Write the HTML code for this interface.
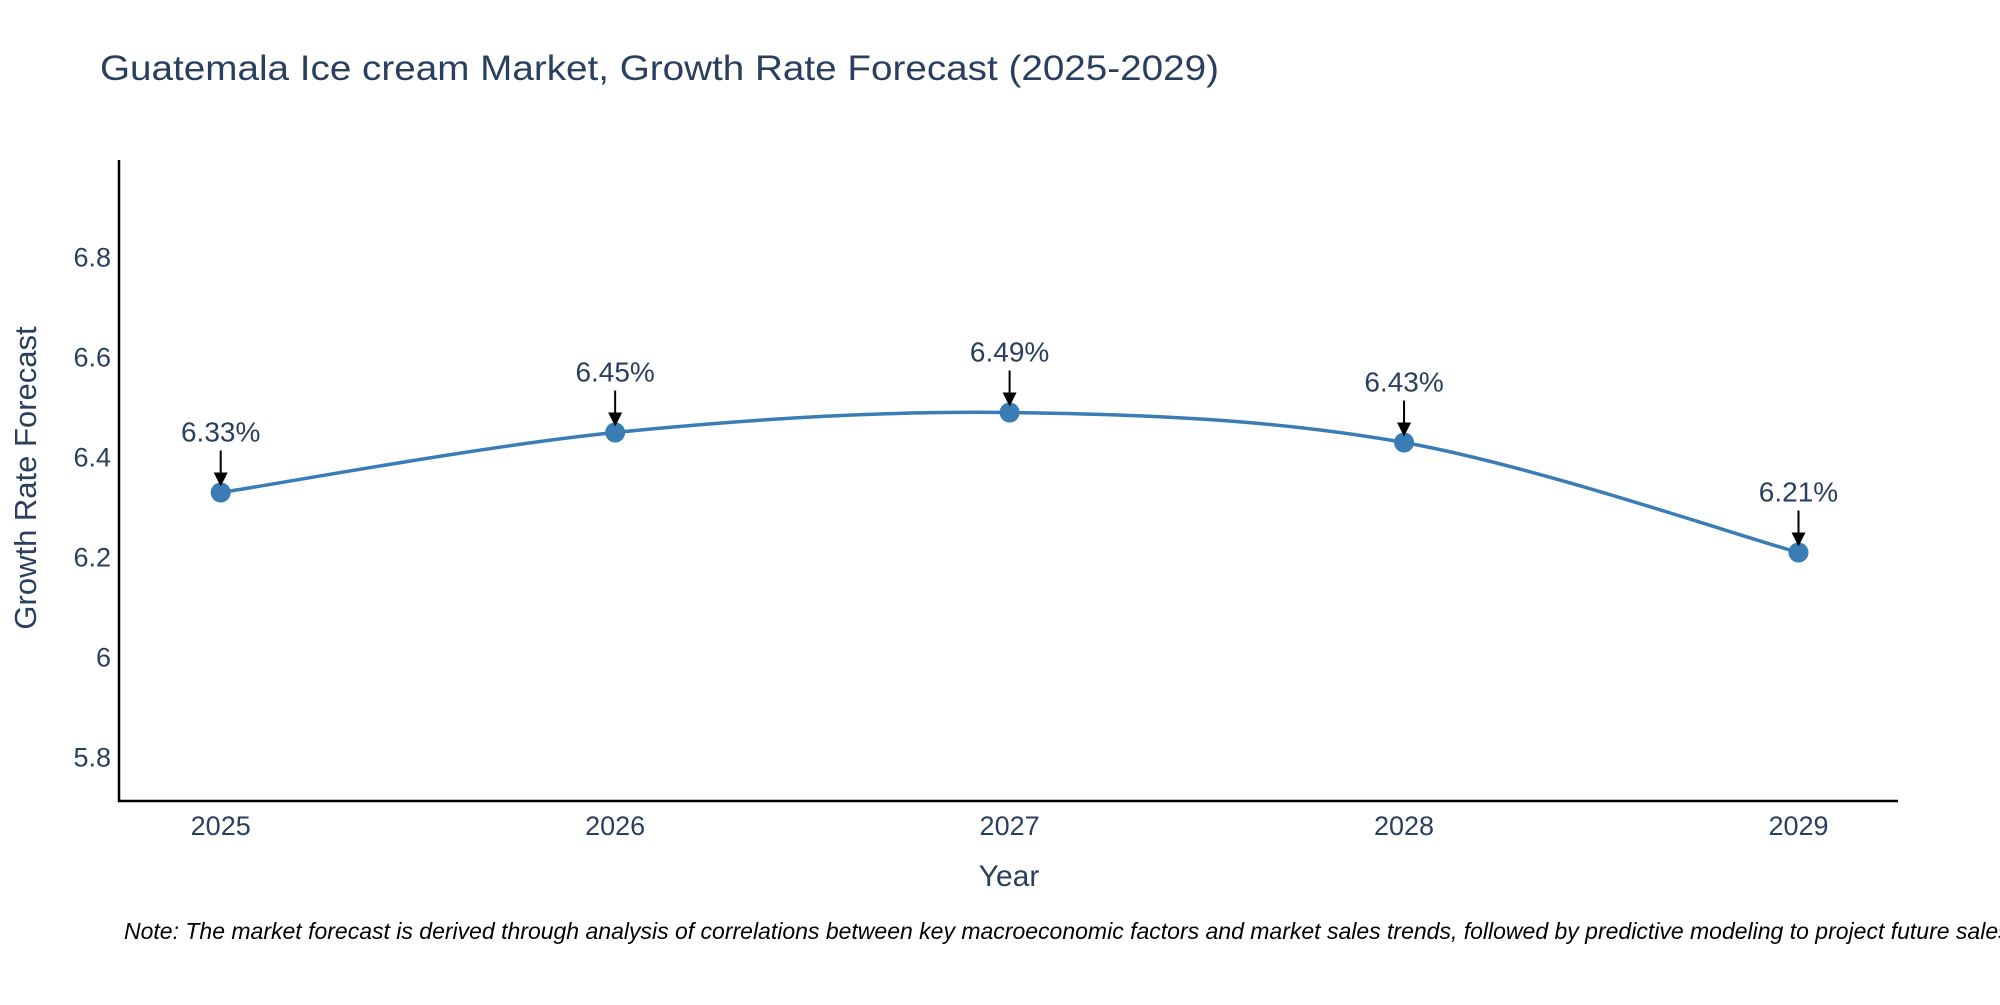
<!DOCTYPE html>
<html><head><meta charset="utf-8"><style>
body{margin:0;background:#fff;overflow:hidden;}
svg text{font-family:"Liberation Sans",Arial,sans-serif;}
</style></head><body>
<svg id="chart" width="2000" height="1000" viewBox="0 0 2000 1000" xmlns="http://www.w3.org/2000/svg">
<rect width="2000" height="1000" fill="#fff"/>
<text x="100" y="80" font-size="35" fill="#2a3f5f" textLength="1119" lengthAdjust="spacingAndGlyphs">Guatemala Ice cream Market, Growth Rate Forecast (2025-2029)</text>
<g id="yticks"></g>
<g id="xticks"></g>
<line x1="119" y1="160" x2="119" y2="802" stroke="#000" stroke-width="2.5"/>
<line x1="118" y1="801" x2="1898" y2="801" stroke="#000" stroke-width="2.5"/>
<text transform="translate(36,478) rotate(-90)" text-anchor="middle" font-size="31" fill="#2a3f5f">Growth Rate Forecast</text>
<text x="1009" y="886" text-anchor="middle" font-size="30" fill="#2a3f5f">Year</text>
<path id="line" fill="none" stroke="#3a7db5" stroke-width="3.5"/>
<g id="marks"></g>
<text x="124" y="939" font-size="23" font-style="italic" fill="#000">Note: The market forecast is derived through analysis of correlations between key macroeconomic factors and market sales trends, followed by predictive modeling to project future sales.</text>
</svg>
<script>
const years=["2025","2026","2027","2028","2029"];
const values=[6.33,6.45,6.49,6.43,6.21];
const labels=["6.33%","6.45%","6.49%","6.43%","6.21%"];
const yTicks=[5.8,6,6.2,6.4,6.6,6.8];
const yTickLabels=["5.8","6","6.2","6.4","6.6","6.8"];
const NS="http://www.w3.org/2000/svg";
function xs(i){return 220.7+i*394.45;}
function ys(v){return 757.5-(v-5.8)*500;}
function mk(t,a,p){const e=document.createElementNS(NS,t);for(const k in a)e.setAttribute(k,a[k]);p.appendChild(e);return e;}
const yg=document.getElementById('yticks');
yTicks.forEach((v,i)=>{const t=mk('text',{x:111,y:ys(v)+9,'text-anchor':'end','font-size':27,fill:'#2a3f5f'},yg);


t.textContent=yTickLabels[i];});
const xg=document.getElementById('xticks');
years.forEach((y,i)=>{const t=mk('text',{x:xs(i),y:835,'text-anchor':'middle','font-size':27,fill:'#2a3f5f'},xg);


t.textContent=y;});
const pts=values.map((v,i)=>[xs(i),ys(v)]);
let d=`M${pts[0][0]},${pts[0][1]}`;
for(let i=0;i<pts.length-1;i++){const p0=pts[Math.max(0,i-1)],p1=pts[i],p2=pts[i+1],p3=pts[Math.min(pts.length-1,i+2)];const k=1/6;
d+=` C${p1[0]+(p2[0]-p0[0])*k},${p1[1]+(p2[1]-p0[1])*k} ${p2[0]-(p3[0]-p1[0])*k},${p2[1]-(p3[1]-p1[1])*k} ${p2[0]},${p2[1]}`;}
document.getElementById('line').setAttribute('d',d);
const mg=document.getElementById('marks');
pts.forEach((p,i)=>{
const c=mk('circle',{cx:p[0],cy:p[1],r:10,fill:'#3a7db5'},mg);


const l=mk('line',{x1:p[0],y1:p[1]-42,x2:p[0],y2:p[1]-16,stroke:'#000','stroke-width':2},mg);


const h=mk('polygon',{points:`${p[0]-7},${p[1]-20} ${p[0]+7},${p[1]-20} ${p[0]},${p[1]-6}`,fill:'#000'},mg);


const t=mk('text',{x:p[0],y:p[1]-51,'text-anchor':'middle','font-size':28,fill:'#2a3f5f'},mg);


t.textContent=labels[i];});
</script>
</body></html>
